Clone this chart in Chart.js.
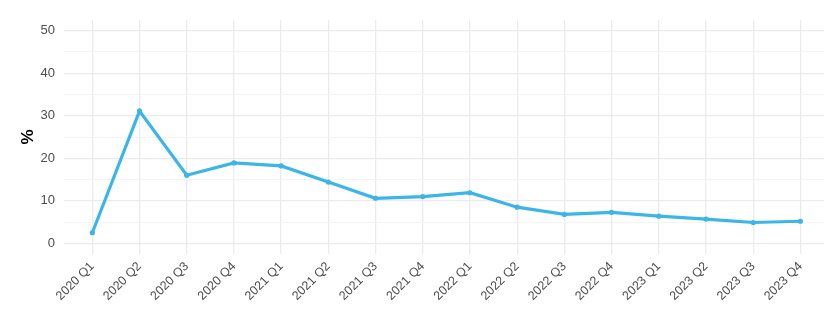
<!DOCTYPE html>
<html>
<head>
<meta charset="utf-8">
<script src="https://cdn.jsdelivr.net/npm/chart.js@4/dist/chart.umd.min.js"></script>
<style>
  html, body { margin: 0; padding: 0; background: #fff; }
  #wrap { width: 828px; height: 330px; }
</style>
</head>
<body>
<div id="wrap"><canvas id="rate-chart"></canvas></div>
<script>
const quarters = [
  "2020 Q1", "2020 Q2", "2020 Q3", "2020 Q4",
  "2021 Q1", "2021 Q2", "2021 Q3", "2021 Q4",
  "2022 Q1", "2022 Q2", "2022 Q3", "2022 Q4",
  "2023 Q1", "2023 Q2", "2023 Q3", "2023 Q4",
];

const rates = [
  2.5, 31.1, 16.0, 18.9, 18.2, 14.4, 10.6, 11.0,
  11.9, 8.5, 6.8, 7.3, 6.4, 5.7, 4.9, 5.2,
];

const yTicks = [0, 10, 20, 30, 40, 50];
const yMinorTicks = [5, 15, 25, 35, 45];

const colors = {
  line: "#3CB5E9",
  gridMajor: "#EBEBEB",
  gridMinor: "#F4F4F4",
  text: "#4D4D4D",
};

const ctx = document.getElementById("rate-chart").getContext("2d");

new Chart(ctx, {
  type: "line",
  data: {
    datasets: [
      {
        data: rates.map((v, i) => ({ x: i, y: v })),
        borderColor: colors.line,
        backgroundColor: colors.line,
        borderWidth: 3.2,
        pointRadius: 2.6,
        pointBorderWidth: 0,
        tension: 0,
      },
    ],
  },
  options: {
    responsive: true,
    maintainAspectRatio: false,
    animation: false,
    layout: {
      padding: { top: 20, right: 0, bottom: 0, left: 0 },
    },
    plugins: {
      legend: { display: false },
      tooltip: { enabled: false },
    },
    scales: {
      x: {
        type: "linear",
        min: -0.6,
        max: 15.5,
        afterBuildTicks: (scale) => {
          scale.ticks = quarters.map((q, i) => ({ value: i }));
        },
        afterFit: (scale) => {
          scale.height = 76;
        },
        border: { display: false },
        grid: {
          color: colors.gridMajor,
          lineWidth: 1.3,
          drawTicks: false,
        },
        ticks: {
          autoSkip: false,
          maxRotation: 45,
          minRotation: 45,
          padding: 5,
          color: colors.text,
          font: { size: 12.5, family: "Liberation Sans" },
          callback: (value) => quarters[value] ?? "",
        },
      },
      y: {
        min: -2.5,
        max: 52.5,
        afterBuildTicks: (scale) => {
          scale.ticks = [...yTicks, ...yMinorTicks]
            .sort((a, b) => a - b)
            .map((v) => ({ value: v }));
        },
        afterFit: (scale) => {
          scale.width = 64;
        },
        border: { display: false },
        grid: {
          color: (c) => (c.tick && yTicks.includes(c.tick.value) ? colors.gridMajor : colors.gridMinor),
          lineWidth: (c) => (c.tick && yTicks.includes(c.tick.value) ? 1.3 : 1),
          drawTicks: false,
        },
        title: {
          display: true,
          text: "%",
          color: "#000",
          padding: { top: 18, bottom: 0 },
          font: { size: 17, family: "Liberation Sans", weight: "bold" },
        },
        ticks: {
          padding: 9,
          color: colors.text,
          font: { size: 13, family: "Liberation Sans" },
          callback: (value) => (yTicks.includes(value) ? value : ""),
        },
      },
    },
  },
});
</script>
</body>
</html>
